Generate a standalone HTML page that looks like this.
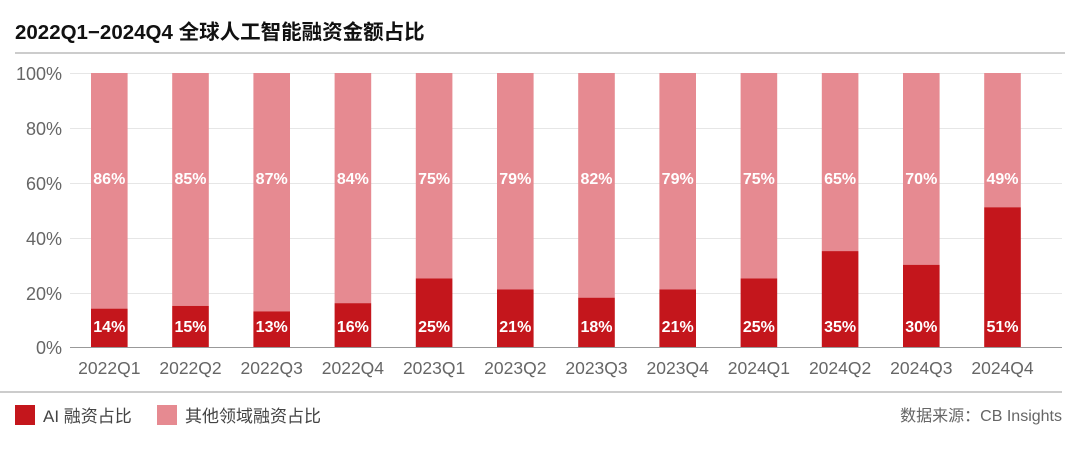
<!DOCTYPE html>
<html><head><meta charset="utf-8"><style>
body{margin:0;width:1080px;height:445px;background:#fff;font-family:"Liberation Sans","Noto Sans CJK SC",sans-serif;overflow:hidden}
</style></head><body>
<svg width="1080" height="445" xmlns="http://www.w3.org/2000/svg" font-family="Liberation Sans, Noto Sans CJK SC, sans-serif">
<text x="15" y="39" font-size="20.5" font-weight="bold" fill="#111">2022Q1−2024Q4 全球人工智能融资金额占比</text>
<line x1="15" y1="53" x2="1065" y2="53" stroke="#999" stroke-width="1"/>
<g stroke="#e6e6e6" stroke-width="1">
<line x1="70" y1="73.5" x2="1062" y2="73.5"/><line x1="70" y1="128.5" x2="1062" y2="128.5"/>
<line x1="70" y1="183.5" x2="1062" y2="183.5"/><line x1="70" y1="238.5" x2="1062" y2="238.5"/>
<line x1="70" y1="293.5" x2="1062" y2="293.5"/>
</g>
<g font-size="18" fill="#666" text-anchor="end">
<text x="62" y="80">100%</text><text x="62" y="135">80%</text><text x="62" y="190">60%</text>
<text x="62" y="245">40%</text><text x="62" y="300">20%</text><text x="62" y="354">0%</text>
</g>
<g id="bars"></g>
<line x1="70" y1="347.5" x2="1062" y2="347.5" stroke="#999" stroke-width="1"/>
<line x1="0" y1="392" x2="1062" y2="392" stroke="#999" stroke-width="1"/>
<rect x="15" y="405" width="20" height="20" fill="#c4161c"/>
<text x="43" y="422" font-size="17" fill="#444">AI 融资占比</text>
<rect x="157" y="405" width="20" height="20" fill="#e68a91"/>
<text x="185" y="422" font-size="17" fill="#444">其他领域融资占比</text>
<text x="1062" y="421" font-size="16" fill="#666" text-anchor="end">数据来源：CB Insights</text>
</svg>
<script>
var ai=[14,15,13,16,25,21,18,21,25,35,30,51],oth=[86,85,87,84,75,79,82,79,75,65,70,49];
var labs=["2022Q1","2022Q2","2022Q3","2022Q4","2023Q1","2023Q2","2023Q3","2023Q4","2024Q1","2024Q2","2024Q3","2024Q4"];
var g=document.getElementById('bars'),s='';
for(var i=0;i<12;i++){var x=91+i*81.2,cx=x+18.3,h=ai[i]*2.74;
s+='<rect x="'+x+'" y="73" width="36.6" height="'+(274-h)+'" fill="#e68a91"/>';
s+='<rect x="'+x+'" y="'+(347-h)+'" width="36.6" height="'+h+'" fill="#c4161c"/>';
s+='<text x="'+cx+'" y="184" font-size="16" font-weight="bold" fill="#fff" text-anchor="middle">'+oth[i]+'%</text>';
s+='<text x="'+cx+'" y="332" font-size="16" font-weight="bold" fill="#fff" text-anchor="middle">'+ai[i]+'%</text>';
s+='<text x="'+cx+'" y="374" font-size="17.5" fill="#666" text-anchor="middle">'+labs[i]+'</text>';}
g.innerHTML=s;
</script>
</body></html>
